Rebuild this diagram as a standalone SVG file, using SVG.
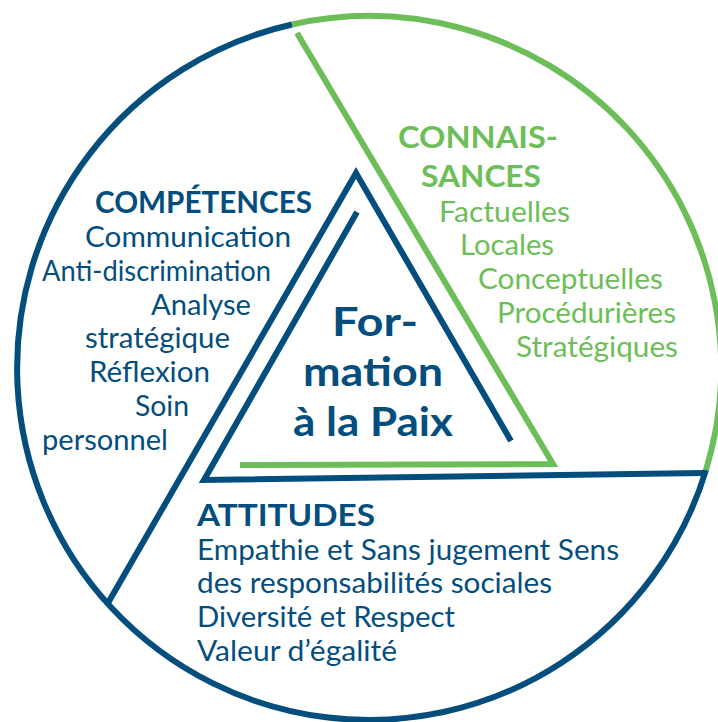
<svg xmlns="http://www.w3.org/2000/svg" width="718" height="722" viewBox="0 0 718 722">
<style>
.b{fill:none;stroke:#044e7e;stroke-width:6;stroke-linejoin:miter;stroke-linecap:butt}
.g{fill:none;stroke:#6dbe58;stroke-width:6;stroke-linejoin:miter;stroke-linecap:butt}
text{font-family:Lato,"Open Sans","Liberation Sans",sans-serif}
.tb{fill:#044e7e}
.tg{fill:#6dbe58}
.h{font-size:31px;font-weight:700}
.r{font-size:28px;font-weight:400}
.c{font-size:41px;font-weight:700}
</style>
<rect width="718" height="722" fill="#ffffff"/>
<g id="outline">
<path class="g" d="M292,24.5 A352,352 0 0 1 706,470"/>
<path class="b" d="M706,470 A352,352 0 1 1 292,24.5"/>
</g>
<g id="connectors">
<polyline class="g" points="297,33 553,464 240,465"/>
<polyline class="b" points="108,603 356,173 511,441"/>
<polyline class="b" points="357,212 204,480 703,473"/>
</g>
<g id="competences" class="tb">
<text class="h" x="95" y="213" textLength="217" lengthAdjust="spacingAndGlyphs">COMPÉTENCES</text>
<text class="r" x="85" y="247" textLength="206" lengthAdjust="spacingAndGlyphs">Communication</text>
<text class="r" x="42" y="281" textLength="229" lengthAdjust="spacingAndGlyphs">Anti-discrimination</text>
<text class="r" x="151" y="315" textLength="100" lengthAdjust="spacingAndGlyphs">Analyse</text>
<text class="r" x="85" y="348" textLength="145" lengthAdjust="spacingAndGlyphs">stratégique</text>
<text class="r" x="89" y="382" textLength="121" lengthAdjust="spacingAndGlyphs">Réflexion</text>
<text class="r" x="135" y="416" textLength="54" lengthAdjust="spacingAndGlyphs">Soin</text>
<text class="r" x="42" y="450" textLength="126" lengthAdjust="spacingAndGlyphs">personnel</text>
</g>
<g id="connaissances" class="tg">
<text class="h" x="398" y="148" textLength="160" lengthAdjust="spacingAndGlyphs">CONNAIS-</text>
<text class="h" x="421" y="187" textLength="120" lengthAdjust="spacingAndGlyphs">SANCES</text>
<text class="r" x="439" y="222" textLength="131" lengthAdjust="spacingAndGlyphs">Factuelles</text>
<text class="r" x="460" y="255" textLength="94" lengthAdjust="spacingAndGlyphs">Locales</text>
<text class="r" x="478" y="289" textLength="185" lengthAdjust="spacingAndGlyphs">Conceptuelles</text>
<text class="r" x="497" y="323" textLength="179" lengthAdjust="spacingAndGlyphs">Procédurières</text>
<text class="r" x="516" y="357" textLength="162" lengthAdjust="spacingAndGlyphs">Stratégiques</text>
</g>
<g id="center" class="tb">
<text class="c" x="332" y="336" textLength="86" lengthAdjust="spacingAndGlyphs">For-</text>
<text class="c" x="303" y="386" textLength="140" lengthAdjust="spacingAndGlyphs">mation</text>
<text class="c" x="293" y="436" textLength="160" lengthAdjust="spacingAndGlyphs">à la Paix</text>
</g>
<g id="attitudes" class="tb">
<text class="h" x="197" y="526" textLength="178" lengthAdjust="spacingAndGlyphs">ATTITUDES</text>
<text class="r" x="197" y="560" textLength="422" lengthAdjust="spacingAndGlyphs">Empathie et Sans jugement Sens</text>
<text class="r" x="197" y="593" textLength="355" lengthAdjust="spacingAndGlyphs">des responsabilités sociales</text>
<text class="r" x="197" y="627" textLength="258" lengthAdjust="spacingAndGlyphs">Diversité et Respect</text>
<text class="r" x="197" y="661" textLength="200" lengthAdjust="spacingAndGlyphs">Valeur d’égalité</text>
</g>
</svg>
